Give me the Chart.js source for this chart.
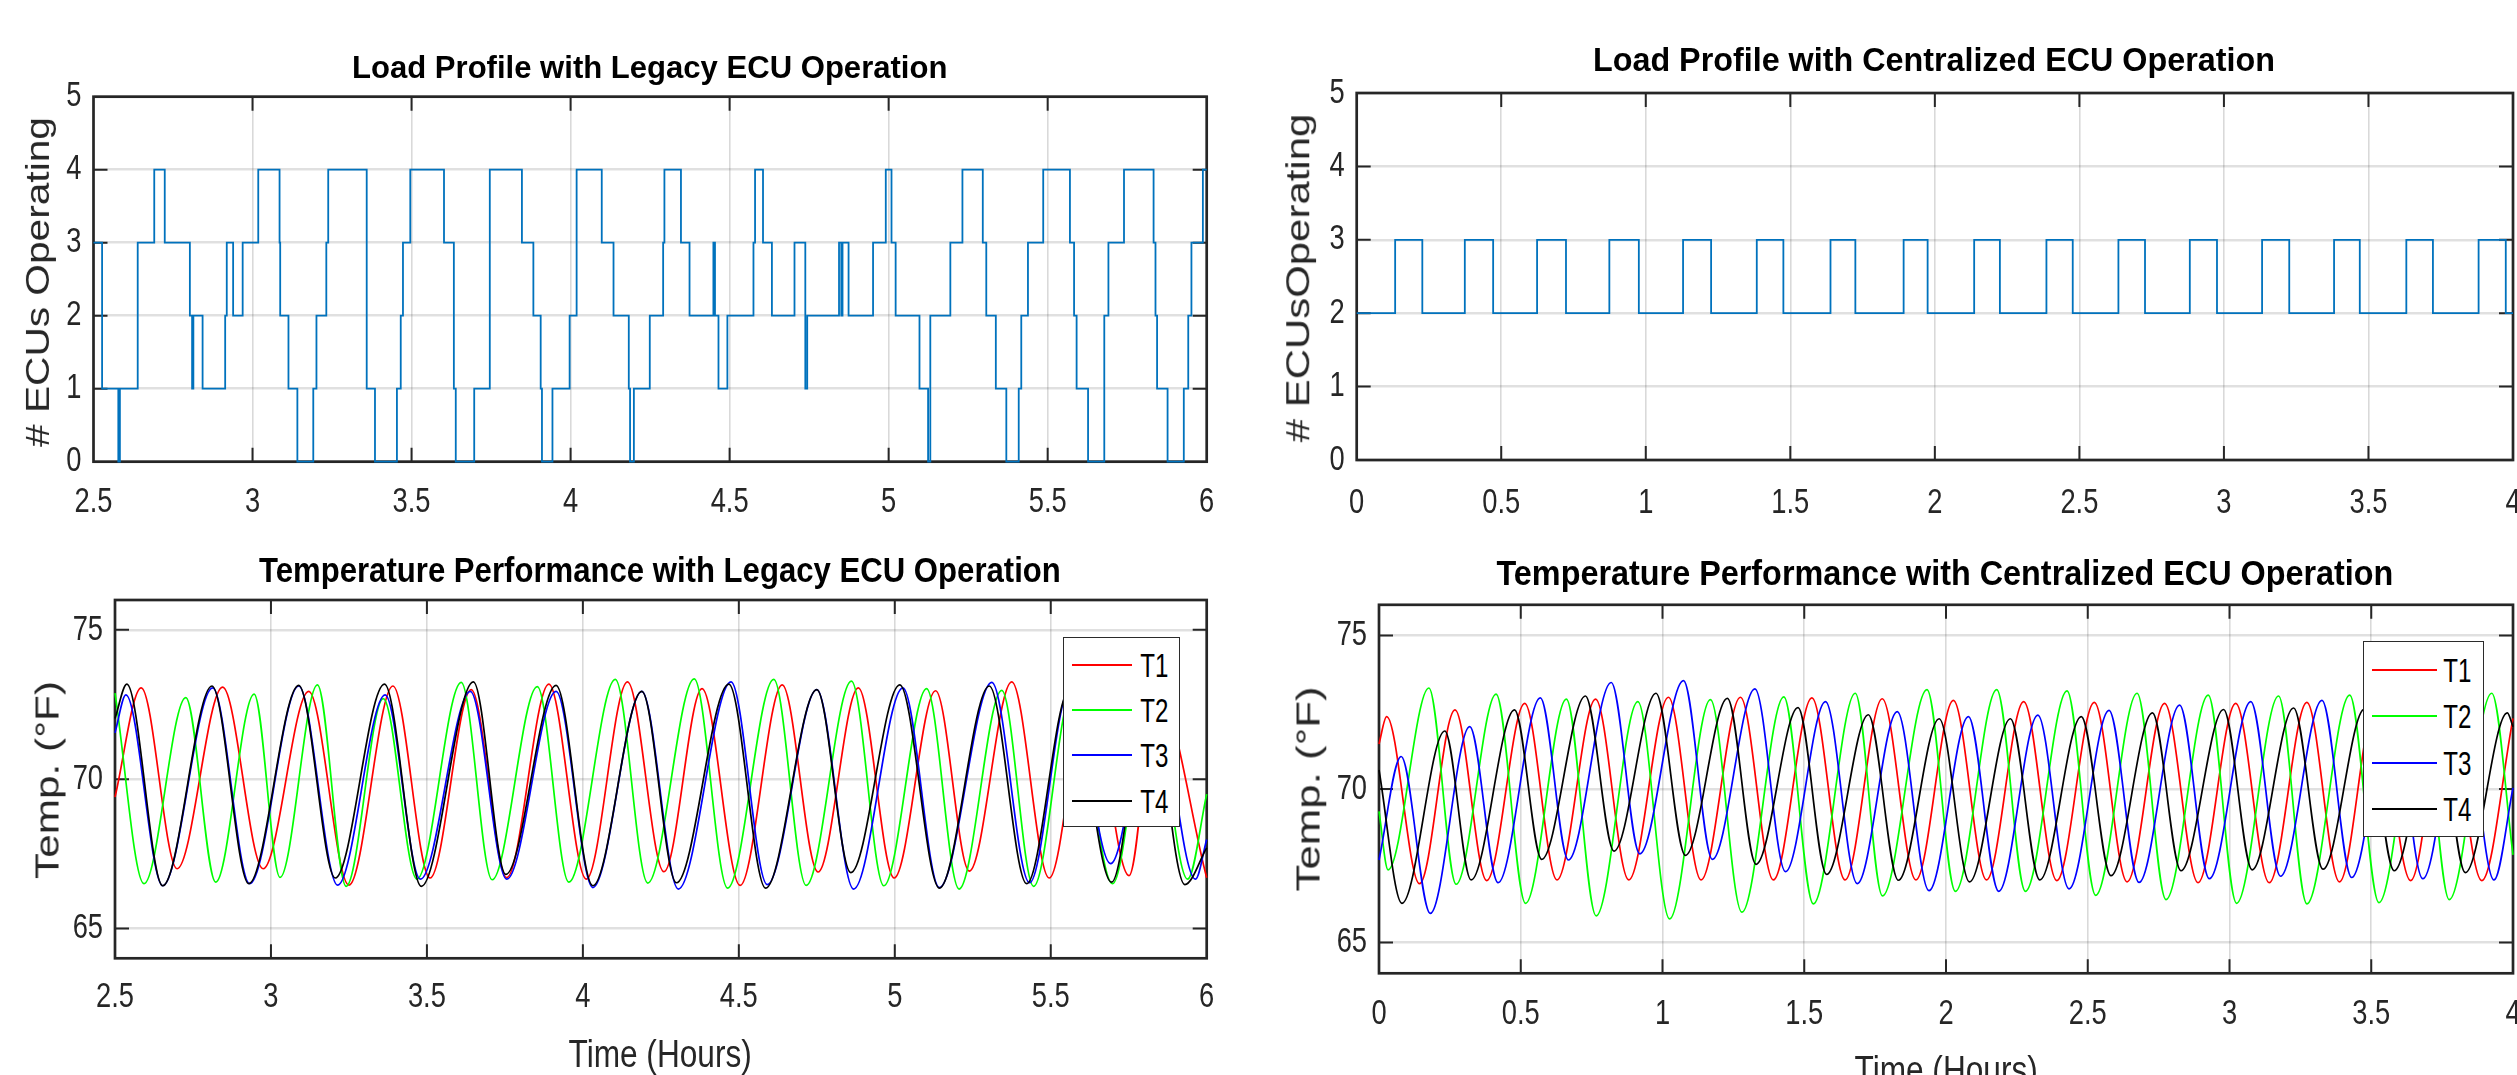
<!DOCTYPE html>
<html>
<head>
<meta charset="utf-8">
<script src="https://cdn.jsdelivr.net/npm/chart.js@4.4.1/dist/chart.umd.min.js"></script>
<style>
html,body{margin:0;padding:0;background:#fff;width:2517px;height:1075px;overflow:hidden;position:relative}
canvas{position:absolute}
.legend{position:absolute;border:1.5px solid #2b2b2b;background:#fff;box-sizing:border-box}
.lline{position:absolute;height:2px;z-index:3}
.txt{position:absolute;white-space:nowrap;line-height:1;z-index:4}
</style>
</head>
<body>
<canvas id="tl"></canvas>
<canvas id="tr"></canvas>
<canvas id="bl"></canvas>
<canvas id="br"></canvas>
<div class="legend" style="left:1063px;top:637px;width:117px;height:190px"></div>
<div class="legend" style="left:2363px;top:641px;width:121px;height:196px"></div>

<script>
// ---------------- DATA ----------------
// Load profile, legacy ECU operation (time of change [h], new # ECUs)
const legacyLoadTime = [2.5,2.527,2.578,2.583,2.639,2.691,2.724,2.803,2.810,2.814,2.843,2.914,2.919,2.939,2.969,3.018,3.085,3.087,3.113,3.141,3.191,3.201,3.232,3.238,3.359,3.385,3.454,3.466,3.473,3.496,3.602,3.633,3.639,3.697,3.746,3.847,3.883,3.906,3.910,3.943,3.997,4.019,4.098,4.135,4.183,4.187,4.199,4.249,4.291,4.295,4.347,4.374,4.449,4.454,4.465,4.493,4.575,4.580,4.605,4.633,4.704,4.738,4.744,4.844,4.851,4.855,4.874,4.951,4.991,5.009,5.022,5.097,5.124,5.131,5.194,5.232,5.296,5.307,5.337,5.370,5.409,5.417,5.438,5.486,5.570,5.583,5.591,5.627,5.678,5.691,5.740,5.833,5.839,5.844,5.877,5.928,5.942,5.952,5.988,6.0];
const legacyLoadN    = [3,1,0,1,3,4,3,2,1,2,1,2,3,2,3,4,3,2,1,0,1,2,3,4,1,0,1,2,3,4,3,1,0,1,4,3,2,1,0,1,2,4,3,2,1,0,1,2,3,4,3,2,3,2,1,2,3,4,3,2,3,1,2,3,2,3,2,3,4,3,2,1,0,2,3,4,3,2,1,0,1,2,3,4,3,2,1,0,2,3,4,3,2,1,0,1,2,3,4,4];

// Load profile, centralized ECU operation
const centralLoadTime = [0,0.133,0.227,0.374,0.472,0.624,0.724,0.874,0.976,1.129,1.226,1.384,1.476,1.639,1.725,1.892,1.975,2.136,2.225,2.386,2.477,2.635,2.727,2.882,2.976,3.132,3.226,3.381,3.470,3.631,3.723,3.881,3.975,4.0];
const centralLoadN    = [2,3,2,3,2,3,2,3,2,3,2,3,2,3,2,3,2,3,2,3,2,3,2,3,2,3,2,3,2,3,2,3,2,2];

// Temperatures, legacy (peaks / troughs)
const legacyT1Time = [2.5,2.584,2.699,2.845,2.975,3.121,3.25,3.391,3.51,3.642,3.756,3.891,4.011,4.143,4.26,4.382,4.504,4.639,4.754,4.883,4.998,5.131,5.239,5.375,5.495,5.62,5.751,5.84,6.0];
const legacyT1Temp = [69.4,73.06,67.0,73.08,67.0,72.94,66.45,73.12,66.69,73.0,66.7,73.18,66.65,73.26,66.9,73.03,66.44,73.16,66.89,73.06,66.69,72.96,66.92,73.26,66.69,73.0,66.77,73.0,66.7];
const legacyT2Time = [2.5,2.593,2.727,2.823,2.946,3.029,3.149,3.241,3.36,3.468,3.61,3.709,3.854,3.955,4.104,4.208,4.357,4.464,4.612,4.716,4.861,4.965,5.102,5.206,5.343,5.445,5.57,5.698,5.82,5.939,6.0];
const legacyT2Temp = [72.88,66.5,72.73,66.55,72.85,66.71,73.16,66.41,72.7,66.65,73.24,66.63,73.1,66.55,73.34,66.52,73.36,66.35,73.34,66.44,73.28,66.43,73.03,66.32,72.97,66.41,73.0,66.5,73.0,66.65,69.5];
const legacyT3Time = [2.5,2.535,2.653,2.813,2.932,3.089,3.214,3.366,3.479,3.639,3.756,3.914,4.032,4.189,4.306,4.475,4.591,4.75,4.868,5.026,5.143,5.311,5.432,5.56,5.692,5.83,5.964,6.0];
const legacyT3Temp = [71.55,72.82,66.43,73.06,66.5,73.12,66.45,72.82,66.65,72.94,66.65,72.94,66.37,72.94,66.32,73.26,66.47,73.0,66.32,73.06,66.37,73.24,66.53,73.0,67.17,73.0,66.65,67.98];
const legacyT4Time = [2.5,2.538,2.653,2.811,2.929,3.089,3.206,3.364,3.482,3.649,3.753,3.914,4.032,4.189,4.3,4.468,4.586,4.75,4.859,5.016,5.143,5.303,5.423,5.56,5.695,5.815,5.93,6.0];
const legacyT4Temp = [72.03,73.18,66.43,73.12,66.5,73.14,66.69,73.18,66.41,73.26,66.81,73.14,66.43,72.94,66.53,73.18,66.35,73.0,66.87,73.16,66.35,73.12,66.5,73.0,66.55,73.0,66.47,67.7];

// Temperatures, centralized (peaks / troughs)
const centralT1Time = [0,0.027,0.143,0.268,0.38,0.514,0.628,0.764,0.881,1.021,1.136,1.275,1.391,1.527,1.644,1.775,1.894,2.026,2.143,2.274,2.391,2.523,2.639,2.771,2.889,3.022,3.14,3.273,3.388,3.515,3.639,3.765,3.89,4.0];
const centralT1Temp = [71.47,72.36,66.92,72.58,67.02,72.79,67.04,72.93,67.04,72.99,67.04,72.99,67.04,72.97,67.04,72.94,67.04,72.89,67.04,72.85,67.02,72.82,66.98,72.79,66.95,72.79,66.95,72.82,66.98,72.8,67.02,72.8,67.02,72.3];
const centralT2Time = [0,0.032,0.176,0.272,0.413,0.517,0.661,0.766,0.913,1.025,1.169,1.28,1.428,1.532,1.68,1.776,1.933,2.033,2.179,2.28,2.427,2.528,2.674,2.776,2.925,3.025,3.173,3.273,3.424,3.527,3.675,3.775,3.925,4.0];
const centralT2Temp = [69.27,67.37,73.29,66.9,73.09,66.28,72.93,65.87,72.85,65.77,72.91,65.99,73.0,66.26,73.12,66.52,73.24,66.67,73.24,66.67,73.2,66.54,73.12,66.4,73.06,66.28,73.03,66.26,73.06,66.3,73.1,66.4,73.12,67.86];
const centralT3Time = [0,0.078,0.181,0.32,0.42,0.569,0.668,0.819,0.92,1.074,1.176,1.326,1.434,1.575,1.687,1.828,1.94,2.079,2.186,2.324,2.434,2.575,2.681,2.824,2.929,3.075,3.18,3.326,3.431,3.574,3.682,3.822,3.933,4.0];
const centralT3Temp = [67.69,71.06,65.95,72.03,66.95,72.97,67.69,73.47,67.89,73.53,67.71,73.26,67.31,72.85,66.92,72.52,66.69,72.36,66.67,72.41,66.75,72.56,66.96,72.73,67.08,72.85,67.16,72.89,67.12,72.9,67.08,72.9,67.04,70.04];
const centralT4Time = [0,0.081,0.232,0.325,0.478,0.574,0.728,0.829,0.977,1.081,1.229,1.33,1.478,1.579,1.726,1.832,1.976,2.083,2.227,2.331,2.477,2.582,2.728,2.829,2.979,3.08,3.226,3.33,3.476,3.581,3.728,3.832,3.98,4.0];
const centralT4Temp = [70.62,66.28,71.89,67.04,72.58,67.71,73.03,67.98,73.12,67.84,72.95,67.55,72.65,67.22,72.42,67.03,72.29,66.98,72.29,67.04,72.36,67.18,72.48,67.34,72.59,67.37,72.64,67.39,72.6,67.34,72.55,67.28,72.48,72.03];

// Tick labels and names
const legacyHourTicks  = [2.5,3,3.5,4,4.5,5,5.5,6];
const centralHourTicks = [0,0.5,1,1.5,2,2.5,3,3.5,4];
const ecuTicks  = [0,1,2,3,4,5];
const tempTicks = [65,70,75];
const seriesNames  = ['T1','T2','T3','T4'];
const seriesColors = ['#ff0000','#00ff00','#0000ff','#000000'];

// ---------------- DRAWING ----------------
const SANS = "'Liberation Sans', Arial, Helvetica, sans-serif";
const pts = (xs, ys) => xs.map((x, i) => ({x: x, y: ys[i]}));

// MATLAB-like box with inward ticks on all four sides
const framePlugin = {
  id: 'matlabFrame',
  beforeDatasetsDraw(chart) {
    const {ctx, chartArea: a, scales} = chart;
    const xs = scales.x, ys = scales.y, L = 14;
    ctx.save();
    ctx.strokeStyle = '#262626';
    ctx.lineWidth = 2;
    ctx.beginPath();
    xs.ticks.forEach(t => {
      const p = xs.getPixelForValue(t.value);
      if (p > a.left + 2 && p < a.right - 2) {
        ctx.moveTo(p, a.bottom); ctx.lineTo(p, a.bottom - L);
        ctx.moveTo(p, a.top); ctx.lineTo(p, a.top + L);
      }
    });
    ys.ticks.forEach(t => {
      const p = ys.getPixelForValue(t.value);
      if (p > a.top + 2 && p < a.bottom - 2) {
        ctx.moveTo(a.left, p); ctx.lineTo(a.left + L, p);
        ctx.moveTo(a.right, p); ctx.lineTo(a.right - L, p);
      }
    });
    ctx.stroke();
    ctx.lineWidth = 2.7;
    ctx.strokeRect(a.left, a.top, a.right - a.left, a.bottom - a.top);
    ctx.restore();
  }
};

// condensed tick labels (the reference uses a narrow face)
const narrowTicks = {
  id: 'narrowTicks',
  beforeDraw(chart) {
    const ctx = chart.ctx;
    Object.values(chart.scales).forEach(s => {
      s.getLabelItems(chart.chartArea).forEach(it => {
        ctx.save();
        ctx.font = it.font.string;
        const w = ctx.measureText(String(it.label)).width;
        ctx.restore();
        it.options.maxWidth = w * 0.78;
      });
    });
  }
};

function makeChart(o) {
  const cv = document.getElementById(o.id);
  cv.width = o.box.width; cv.height = o.box.height;
  cv.style.left = o.box.left + 'px'; cv.style.top = o.box.top + 'px';
  return new Chart(cv, {
    type: 'line',
    data: {datasets: o.datasets},
    options: {
      responsive: false, animation: false, devicePixelRatio: 1,
      layout: {padding: {left: 0, top: o.area.top - o.box.top, right: o.box.left + o.box.width - o.area.right, bottom: 0}},
      plugins: {legend: {display: false}, tooltip: {enabled: false}, title: {display: false}},
      elements: {point: {radius: 0}},
      scales: {
        x: {
          type: 'linear', min: o.xMin, max: o.xMax,
          afterBuildTicks: s => { s.ticks = o.xTicks.map(v => ({value: v})); },
          afterFit: s => { s.height = o.box.top + o.box.height - o.area.bottom; s.paddingLeft = 0; s.paddingRight = 0; },
          grid: {color: 'rgba(0,0,0,0.15)', lineWidth: 1.6, drawTicks: false},
          border: {display: false},
          ticks: {color: '#262626', font: {family: SANS, size: 35}, padding: o.xPad, maxRotation: 0, autoSkip: false, callback: v => String(v)},
          title: {display: false}
        },
        y: {
          type: 'linear', min: o.yMin, max: o.yMax,
          afterBuildTicks: s => { s.ticks = o.yTicks.map(v => ({value: v})); },
          afterFit: s => { s.width = o.area.left - o.box.left; s.paddingTop = 0; s.paddingBottom = 0; },
          grid: {color: 'rgba(0,0,0,0.12)', lineWidth: 2.6, drawTicks: false},
          border: {display: false},
          ticks: {color: '#262626', font: {family: SANS, size: 35}, padding: 12, autoSkip: false, callback: v => String(v)},
          title: {display: false}
        }
      }
    },
    plugins: [framePlugin, narrowTicks]
  });
}

function loadSet(xs, ys) {
  return [{data: pts(xs, ys), borderColor: '#0072BD', borderWidth: 1.8, stepped: true, clip: false, pointRadius: 0}];
}
function tempSets(series) {
  return series.map((s, i) => ({
    label: seriesNames[i], data: pts(s[0], s[1]), borderColor: seriesColors[i], borderWidth: 1.7,
    cubicInterpolationMode: 'monotone', clip: false, pointRadius: 0, order: 4 - i
  }));
}

makeChart({
  id: 'tl', box: {left: 0, top: 0, width: 1250, height: 540},
  area: {left: 93.5, top: 96.7, right: 1206.7, bottom: 461.7},
  xMin: 2.5, xMax: 6, yMin: 0, yMax: 5, xTicks: legacyHourTicks, yTicks: ecuTicks, xPad: 20,
  datasets: loadSet(legacyLoadTime, legacyLoadN)
});
makeChart({
  id: 'tr', box: {left: 1250, top: 0, width: 1267, height: 540},
  area: {left: 1356.7, top: 93, right: 2513, bottom: 460},
  xMin: 0, xMax: 4, yMin: 0, yMax: 5, xTicks: centralHourTicks, yTicks: ecuTicks, xPad: 22,
  datasets: loadSet(centralLoadTime, centralLoadN)
});
makeChart({
  id: 'bl', box: {left: 0, top: 540, width: 1250, height: 535},
  area: {left: 115, top: 600, right: 1206.7, bottom: 958.3},
  xMin: 2.5, xMax: 6, yMin: 64, yMax: 76, xTicks: legacyHourTicks, yTicks: tempTicks, xPad: 18,
  datasets: tempSets([[legacyT1Time, legacyT1Temp], [legacyT2Time, legacyT2Temp], [legacyT3Time, legacyT3Temp], [legacyT4Time, legacyT4Temp]])
});
makeChart({
  id: 'br', box: {left: 1250, top: 540, width: 1267, height: 535},
  area: {left: 1379, top: 604.8, right: 2513, bottom: 973.3},
  xMin: 0, xMax: 4, yMin: 64, yMax: 76, xTicks: centralHourTicks, yTicks: tempTicks, xPad: 20,
  datasets: tempSets([[centralT1Time, centralT1Temp], [centralT2Time, centralT2Temp], [centralT3Time, centralT3Temp], [centralT4Time, centralT4Temp]])
});

// ---------------- TEXT (titles, axis labels, legends) ----------------
function placeText(txt, cx, cy, size, weight, targetW, rotate, color) {
  const d = document.createElement('div');
  d.className = 'txt';
  d.textContent = txt;
  d.style.font = weight + ' ' + size + 'px ' + SANS;
  d.style.lineHeight = '1';
  d.style.color = color;
  document.body.appendChild(d);
  const w = d.offsetWidth, h = d.offsetHeight;
  const s = targetW ? targetW / w : 1;
  d.style.left = (cx - w / 2) + 'px';
  d.style.top = (cy - h / 2) + 'px';
  d.style.transformOrigin = '50% 50%';
  d.style.transform = (rotate ? 'rotate(-90deg) ' : '') + 'scaleX(' + s + ')';
}

// chart titles
placeText('Load Profile with Legacy ECU Operation', 649, 66.5, 32, 'bold', 595, false, '#000');
placeText('Load Profile with Centralized ECU Operation', 1934, 59, 34, 'bold', 682, false, '#000');
placeText('Temperature Performance with Legacy ECU Operation', 660, 569, 35, 'bold', 802, false, '#000');
placeText('Temperature Performance with Centralized ECU Operation', 1945, 572, 35, 'bold', 897, false, '#000');
// y axis titles
placeText('# ECUs Operating', 37, 282, 34, 'normal', 330, true, '#262626');
placeText('# ECUsOperating', 1297, 277.5, 34, 'normal', 328, true, '#262626');
placeText('Temp. (°F)', 46, 780, 34, 'normal', 198, true, '#262626');
placeText('Temp. (°F)', 1307, 789, 34, 'normal', 205, true, '#262626');
// x axis titles
placeText('Time (Hours)', 659.5, 1054, 38, 'normal', 183, false, '#262626');
placeText('Time (Hours)', 1946, 1070, 38, 'normal', 183, false, '#262626');

// legends
function buildLegend(rows, lineL, lineR, textL) {
  seriesNames.forEach((n, i) => {
    const ln = document.createElement('div');
    ln.className = 'lline';
    ln.style.cssText = 'left:' + lineL + 'px;width:' + (lineR - lineL) + 'px;top:' + (rows[i] - 1) + 'px;background:' + seriesColors[i];
    document.body.appendChild(ln);
    placeText(n, textL + 14, rows[i], 33, 'normal', 28.5, false, '#000');
  });
}
buildLegend([665, 710, 755, 801], 1072, 1132, 1140);
buildLegend([670, 716, 763, 809], 2372, 2437, 2443);
</script>
</body>
</html>
